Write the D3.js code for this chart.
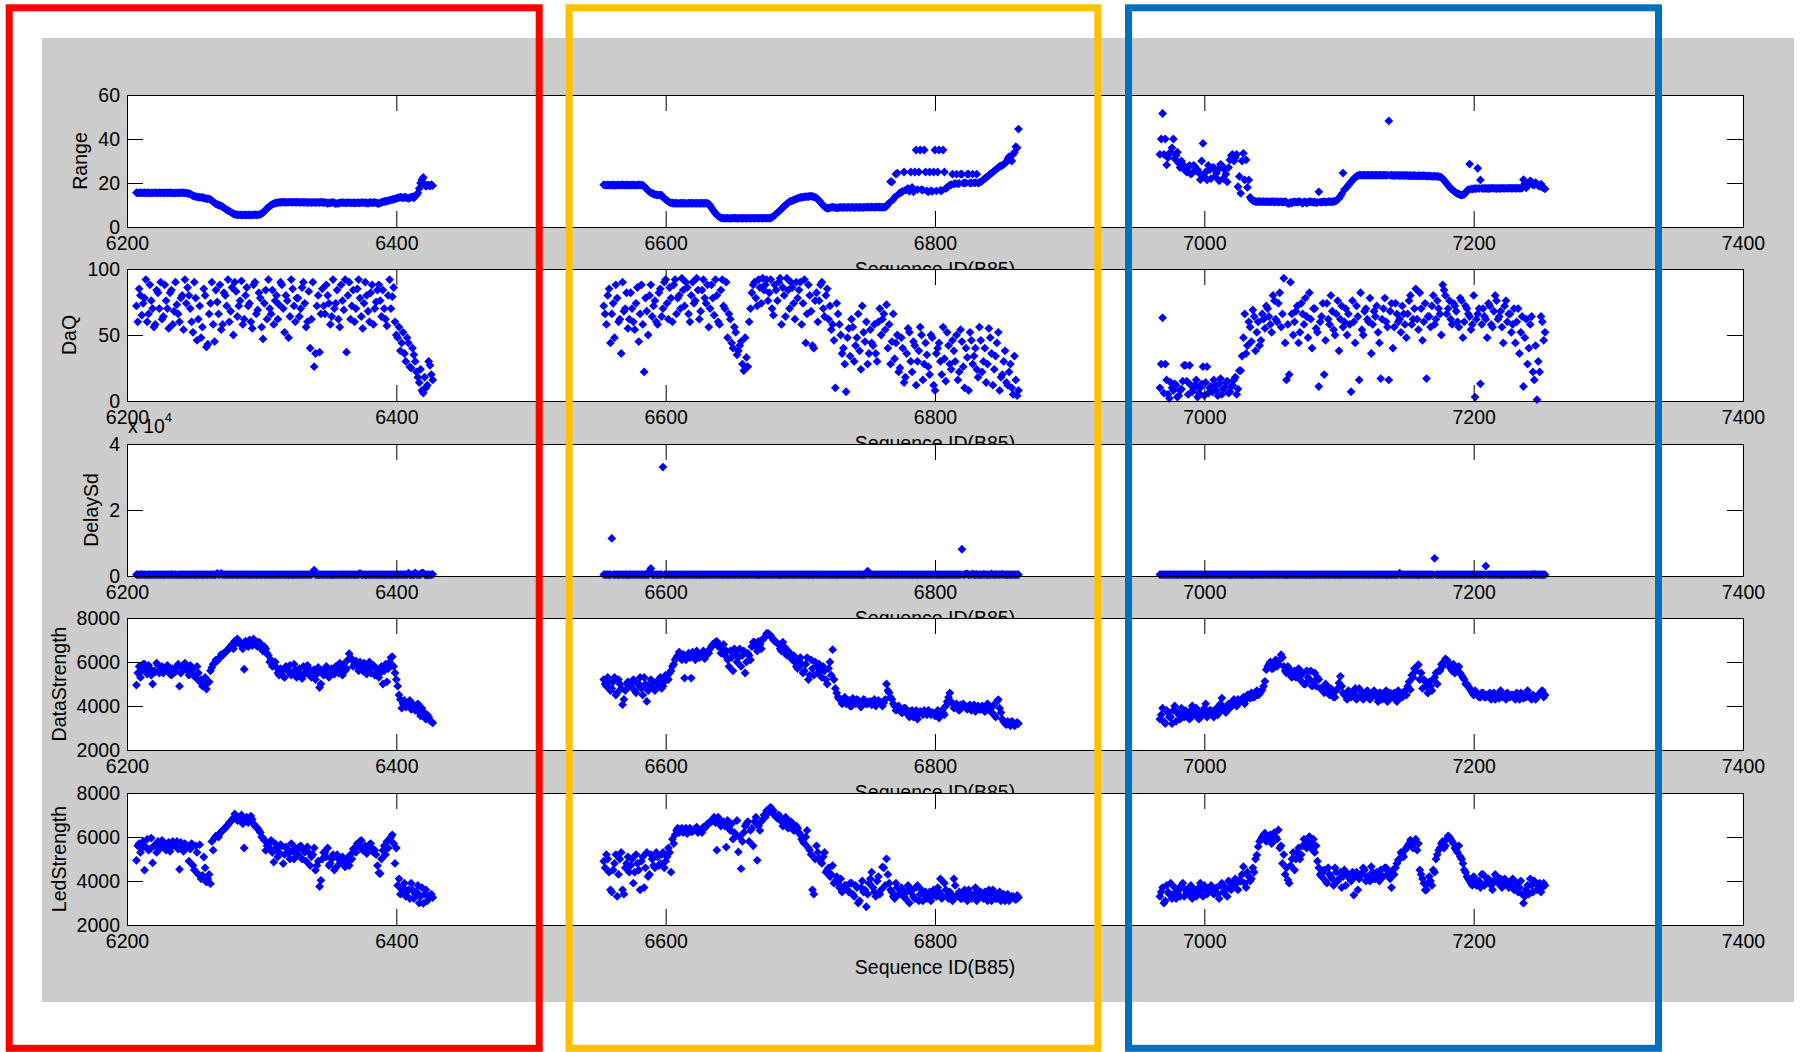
<!DOCTYPE html>
<html>
<head>
<meta charset="utf-8">
<script src="https://cdn.jsdelivr.net/npm/d3@7"></script>
<style>
html,body{margin:0;padding:0;background:#ffffff;}
svg{display:block;}
text{font-family:"Liberation Sans",Arial,Helvetica,sans-serif;}
</style>
</head>
<body>
<svg id="chart" width="1800" height="1052"></svg>
<script>
// ---------------- DATA ----------------
const xTicks = [6200, 6400, 6600, 6800, 7000, 7200, 7400];
const xLabel = "Sequence ID(B85)";

const rangeTicks = [0, 20, 40, 60];
const rangeTickLabels = ["0", "20", "40", "60"];
const daqTicks = [0, 50, 100];
const daqTickLabels = ["0", "50", "100"];
const delayTicks = [0, 20000, 40000];
const delayTickLabels = ["0", "2", "4"];
const strengthTicks = [2000, 4000, 6000, 8000];
const strengthTickLabels = ["2000", "4000", "6000", "8000"];

// ---- Segment A (odd IDs) ----
const idsA = [
6207,6209,6211,6213,6215,6217,6219,6221,6223,6225,
6227,6229,6231,6233,6235,6237,6239,6241,6243,6245,
6247,6249,6251,6253,6255,6257,6259,6261,6263,6265,
6267,6269,6271,6273,6275,6277,6279,6281,6283,6285,
6287,6289,6291,6293,6295,6297,6299,6301,6303,6305,
6307,6309,6311,6313,6315,6317,6319,6321,6323,6325,
6327,6329,6331,6333,6335,6337,6339,6341,6343,6345,
6347,6349,6351,6353,6355,6357,6359,6361,6363,6365,
6367,6369,6371,6373,6375,6377,6379,6381,6383,6385,
6387,6389,6391,6393,6395,6397,6399,6401,6403,6405,
6407,6409,6411,6413,6415,6417,6419,6421,6423,6425,
6427];
const rangeA = [
15.6,15.5,15.5,15.6,15.5,15.4,15.5,15.6,15.5,15.5,
15.5,15.6,15.5,15.5,15.4,15.5,15.5,15.6,15.5,15.3,
15.0,14.2,13.8,13.6,13.5,13.2,12.9,12.8,12.0,11.0,
10.2,9.8,9.2,8.2,7.5,6.8,6.0,5.6,5.5,5.5,
5.5,5.4,5.5,5.5,5.6,5.5,5.8,6.5,7.8,9.0,
10.0,10.6,11.0,11.2,11.3,11.3,11.2,11.3,11.3,11.2,
11.3,11.2,11.2,11.3,11.2,11.1,11.2,11.2,11.1,11.2,
11.2,10.8,11.0,11.2,10.6,10.7,11.1,11.1,11.0,11.1,
11.0,10.9,11.1,11.0,11.2,11.1,10.8,11.2,11.1,11.0,
10.6,11.2,11.6,11.8,12.1,12.5,12.8,13.2,13.6,13.2,
13.4,13.0,13.6,13.2,14.6,17.5,21.5,19.5,19.0,18.6,
18.8];
const daqA = [
72,85,65,78,60,88,70,58,82,90,
64,76,55,84,68,73,60,80,92,86,
70,52,78,62,48,85,41,66,90,45,
75,88,58,80,92,68,50,83,72,91,
62,86,74,55,90,69,78,47,84,92,
66,58,80,73,88,52,76,64,85,60,
78,70,90,56,83,62,26,72,37,85,
66,80,58,92,74,62,88,69,37,90,
72,60,85,78,55,90,68,82,58,75,
88,64,70,57,92,79,60,48,38,52,
30,44,25,35,22,14,8,18,12,27,
16];
const delayA = [
420,380,450,400,360,430,410,390,440,400,
380,420,400,450,410,370,430,400,420,390,
410,440,380,400,420,430,390,410,400,380,
800,420,400,380,430,410,390,420,400,440,
400,420,380,410,430,400,390,420,410,400,
380,410,430,400,420,390,410,400,380,420,
410,400,430,390,420,400,1800,410,390,420,
400,430,410,380,420,400,390,410,430,400,
420,390,410,800,400,380,420,410,400,430,
410,400,380,420,390,410,400,380,420,410,
430,900,400,380,420,390,950,420,300,360,
500];
const dataStrA = [
4950,5800,5600,5900,5450,5700,5000,5550,5850,5650,
5500,5700,5600,5400,5650,5750,4900,5800,5950,5600,
5850,5700,5300,5500,5200,4950,4770,5100,5750,5950,
6050,6200,6300,6450,6550,6700,6600,6850,6900,6750,
5670,6850,7000,6750,6900,6700,6850,6500,6600,6300,
6100,5900,5750,5400,5600,5300,5700,5850,5500,5650,
5600,5400,5800,5500,5700,5300,5650,5450,4840,5600,
5500,5700,5400,5600,5800,5500,5650,5900,5700,6380,
6100,5900,5800,6000,5600,5900,5750,5500,5850,5700,
5300,5800,5600,5100,6000,6240,5500,4900,4300,4100,
3950,4100,3850,4050,4000,3700,3900,3500,3600,3350,
3230];
const ledStrA = [
4940,5700,5500,4490,5900,5450,4820,5650,5800,5500,
5600,5400,5750,5550,5650,5800,4530,5500,5700,5600,
5450,4710,5600,4300,4100,5090,3950,4300,5800,5950,
6050,6150,6300,6400,6550,6700,6850,6950,6800,7000,
5500,6900,6750,6800,6500,6400,6200,5950,5390,5700,
5850,4860,5500,5300,5600,5200,5450,5000,5350,5500,
5200,5600,5400,4900,5300,5100,5500,4700,3750,5000,
5300,5500,4800,5200,4600,5000,4900,4800,5000,4700,
5000,5500,5700,5800,5400,5600,5450,5700,5300,5200,
4370,5000,5600,5800,5900,6100,4800,3800,3400,3700,
3300,3600,3900,3200,3500,3000,3700,3400,3100,3300,
3250];

// ---- Segment A (even IDs) ----
const idsA2 = [
6208,6210,6212,6214,6216,6218,6220,6222,6224,6226,
6228,6230,6232,6234,6236,6238,6240,6242,6244,6246,
6248,6250,6252,6254,6256,6258,6260,6262,6264,6266,
6268,6270,6272,6274,6276,6278,6280,6282,6284,6286,
6288,6290,6292,6294,6296,6298,6300,6302,6304,6306,
6308,6310,6312,6314,6316,6318,6320,6322,6324,6326,
6328,6330,6332,6334,6336,6338,6340,6342,6344,6346,
6348,6350,6352,6354,6356,6358,6360,6362,6364,6366,
6368,6370,6372,6374,6376,6378,6380,6382,6384,6386,
6388,6390,6392,6394,6396,6398,6400,6402,6404,6406,
6408,6410,6412,6414,6416,6418,6420,6422,6424,6426];
const rangeA2 = [
15.5,15.6,15.5,15.5,15.6,15.5,15.5,15.5,15.6,15.5,
15.5,15.5,15.6,15.5,15.5,15.5,15.6,15.5,15.4,15.2,
14.6,14.0,13.7,13.5,13.4,13.0,12.8,12.4,11.5,10.5,
10.0,9.5,8.7,7.8,7.2,6.4,5.8,5.5,5.5,5.4,
5.5,5.5,5.4,5.5,5.5,5.6,6.1,7.1,8.4,9.5,
10.3,10.8,11.1,11.2,11.3,11.2,11.3,11.2,11.3,11.3,
11.2,11.3,11.2,11.1,11.2,11.2,11.1,11.2,11.3,11.1,
11.0,10.9,11.1,10.9,10.7,11.0,11.1,11.0,11.1,11.0,
11.1,11.0,11.0,11.1,11.0,10.9,11.1,11.0,11.2,10.8,
11.0,11.4,11.7,12.0,12.3,12.6,13.0,13.4,13.4,13.6,
13.2,13.3,13.8,14.0,15.5,20.0,22.5,18.5,19.0,19.3];
const daqA2 = [
60,80,74,92,66,76,56,84,70,62,
88,70,82,58,90,66,78,54,74,80,
60,90,46,72,56,80,43,74,58,84,
66,54,82,72,60,86,90,64,76,58,
80,72,60,88,66,82,56,74,62,70,
84,76,62,90,70,80,48,92,72,78,
64,86,74,60,40,90,36,80,66,72,
88,74,64,70,84,56,76,92,80,62,
84,70,92,64,74,80,60,88,70,84,
76,84,62,80,70,86,50,56,44,36,
48,26,40,30,18,24,6,10,30,20];
const delayA2 = [
400,420,390,410,430,380,410,400,420,390,
410,400,430,390,420,400,380,410,420,400,
390,410,400,420,380,430,400,410,390,420,
400,760,410,390,420,400,430,380,410,400,
420,390,410,400,380,420,400,430,390,410,
400,420,390,410,430,400,380,420,410,400,
390,410,420,400,430,1200,400,410,390,420,
410,400,380,420,400,390,430,410,400,420,
400,430,410,390,420,400,380,410,420,400,
390,410,400,420,380,410,430,400,420,410,
400,380,420,950,410,400,900,380,420,400];
const dataStrA2 = [
5500,5300,5900,5700,5850,5400,5600,5950,5500,5800,
5600,5850,5450,5700,5550,5900,5500,5650,5800,5400,
5600,5350,5800,5100,4900,5300,5050,5600,5900,6100,
6150,6350,6400,6500,6650,6800,6950,7050,6900,6600,
6950,6700,6800,7050,6750,6900,6600,6700,6400,6000,
5800,6000,5500,5700,5350,5800,5550,5400,5900,5300,
5700,5250,5500,5850,5400,5600,5200,5750,5000,5400,
5800,5300,5700,5450,5550,5950,5400,5600,6100,6200,
5800,6050,5600,5700,5950,5450,6000,5800,5400,5600,
5500,5000,5900,5700,6200,5800,5200,4500,3900,4250,
4000,4250,3900,3800,4100,3550,3750,3400,3500,3300];
const ledStrA2 = [
5600,5300,5800,5550,5400,5950,5600,5300,5700,5850,
5500,5700,5350,5800,5600,5450,5750,5350,5550,4900,
5700,4500,5300,5650,4260,4600,4100,3880,5400,6050,
6000,6250,6350,6500,6650,6800,7050,6750,6900,6600,
6750,6650,6950,6600,6450,6300,6000,5850,5600,5500,
5300,5700,5100,5650,4790,5550,5250,5700,5000,5400,
5550,5000,5300,5550,4700,5200,4490,4900,4030,5300,
5100,4700,5000,4500,5200,4800,5100,4640,4900,5200,
5450,5300,5600,5840,5500,5250,5650,5500,5400,4700,
4340,5390,5200,5500,6000,5700,5500,4100,3600,3900,
3500,3200,3600,3400,3800,3300,2980,3600,3300,3400];

// ---- Segment B (even IDs) ----
const idsB = [
6554,6556,6558,6560,6562,6564,6566,6568,6570,6572,
6574,6576,6578,6580,6582,6584,6586,6588,6590,6592,
6594,6596,6598,6600,6602,6604,6606,6608,6610,6612,
6614,6616,6618,6620,6622,6624,6626,6628,6630,6632,
6634,6636,6638,6640,6642,6644,6646,6648,6650,6652,
6654,6656,6658,6660,6662,6664,6666,6668,6670,6672,
6674,6676,6678,6680,6682,6684,6686,6688,6690,6692,
6694,6696,6698,6700,6702,6704,6706,6708,6710,6712,
6714,6716,6718,6720,6722,6724,6726,6728,6730,6732,
6734,6736,6738,6740,6742,6744,6746,6748,6750,6752,
6754,6756,6758,6760,6762,6764,6766,6768,6770,6772,
6774,6776,6778,6780,6782,6784,6786,6788,6790,6792,
6794,6796,6798,6800,6802,6804,6806,6808,6810,6812,
6814,6816,6818,6820,6822,6824,6826,6828,6830,6832,
6834,6836,6838,6840,6842,6844,6846,6848,6850,6852,
6854,6856,6858,6860,6862];
const rangeB = [
19.2,19.0,19.1,19.0,18.9,19.1,19.0,19.2,19.0,19.1,
19.0,19.1,19.0,19.2,19.0,18.5,17.2,16.0,15.3,14.8,
14.6,14.5,13.5,12.5,11.5,11.0,10.8,10.8,10.7,10.8,
10.8,10.7,10.8,10.8,10.7,10.8,10.8,10.7,10.8,10.5,
8.8,7.0,5.5,4.5,4.0,3.9,4.0,3.9,4.0,4.0,
3.9,4.0,4.0,3.9,4.0,4.0,3.9,4.0,4.0,3.9,
4.0,4.0,4.1,4.8,6.0,7.0,8.2,9.5,10.5,11.5,
12.0,12.5,13.0,13.4,13.6,13.8,13.8,14.0,13.7,13.2,
12.0,10.5,9.2,8.5,8.8,9.0,8.8,8.7,9.0,8.9,
8.8,9.0,8.9,8.7,9.0,8.9,8.8,9.0,9.1,8.9,
9.0,9.1,9.0,8.9,9.0,9.5,11.0,20.5,13.5,24.5,
15.5,16.2,16.8,17.5,25.0,16.0,35.0,25.0,17.0,35.0,
16.4,25.0,16.2,35.0,25.0,16.6,35.0,17.5,18.5,19.2,
19.5,24.0,19.8,24.0,20.0,24.0,20.0,24.0,20.2,20.0,
20.5,21.5,22.5,23.5,24.5,25.5,26.5,27.5,28.0,29.0,
31.0,30.5,33.0,36.5,44.5];
const daqB = [
72,58,85,66,48,78,62,90,70,55,
82,60,74,45,88,22,68,80,64,76,
58,85,70,92,62,78,88,66,80,93,
72,86,60,90,76,84,68,92,74,56,
88,65,80,58,92,70,48,62,40,52,
38,45,23,33,60,82,90,72,86,93,
88,76,92,65,84,90,58,80,93,70,
86,62,78,90,74,44,88,68,40,82,
76,90,64,85,72,58,10,66,50,40,
7,55,62,30,48,38,72,45,28,54,
42,36,60,50,66,73,58,45,32,50,
25,40,18,55,30,45,12,38,50,28,
35,20,48,8,40,30,56,15,42,24,
38,50,22,45,10,33,52,28,40,18,
46,30,14,55,36,24,44,8,20,38,
12,28,5,16,8];
const delayB = [
400,420,380,11400,410,390,430,400,420,380,
410,400,430,390,420,400,410,1500,400,420,
390,410,33000,400,430,380,420,410,390,400,
410,400,420,390,430,400,380,410,420,400,
400,420,390,410,380,430,400,420,410,390,
420,400,410,390,430,400,420,380,410,400,
390,420,400,410,430,380,400,420,390,410,
400,430,410,390,420,400,380,410,430,400,
410,390,420,400,380,430,410,400,420,390,
400,420,390,410,430,400,380,410,1500,400,
420,390,410,400,430,380,420,400,390,410,
400,420,390,410,400,430,380,420,410,400,
390,410,420,400,380,430,400,410,420,390,
400,410,420,8100,390,600,400,650,410,380,
420,500,390,410,600,380,420,400,550,390,
410,380,420,400,390];
const dataStrB = [
5200,4900,5100,4800,5300,4600,5000,4060,4700,5100,
4900,5200,4600,5000,4800,5300,4210,4900,5100,4700,
5000,5300,4900,5400,5200,5600,5900,6200,6450,6100,
5270,6300,6200,6450,6100,6350,6250,6500,6300,6400,
6700,6850,6940,6750,6600,6300,6100,6500,5600,6400,
6200,5800,6500,6000,6300,6700,6900,6500,6800,7000,
7150,7300,7200,7000,6900,6800,6500,6700,6300,6400,
6100,6000,5700,6200,5500,5900,5200,6100,5400,5800,
5900,5300,5600,5000,6000,6560,4800,4400,4300,4200,
4100,4250,4000,4200,4300,4150,4050,4250,4100,4200,
4150,4000,4250,4100,4150,5000,4600,4300,4000,3900,
3800,3700,3900,3600,3750,3500,3800,3650,3700,3800,
3600,3750,3700,3550,3800,3650,3700,4000,4400,4200,
3900,4100,3800,3950,4000,3850,4050,3900,3750,4000,
3850,3950,3800,4000,3700,3600,4200,3900,3400,3200,
3300,3100,3250,3150,3200];
const ledStrB = [
4900,5200,4400,3500,4800,3300,5000,3600,4600,5100,
4700,3900,5200,4500,4900,3700,5300,4300,5000,4600,
5100,4800,5300,4900,5500,4400,5700,6300,6200,6400,
6300,6150,6400,6250,6350,6200,6300,6450,6500,6600,
6700,6900,5400,6800,6650,6500,6750,6300,5900,6100,
5320,4560,6200,6600,5800,6400,6700,4940,6300,6800,
6900,7100,7350,7200,6900,7000,6700,6600,6800,6500,
6600,6300,6400,6100,5800,6000,5500,5200,3400,5600,
5000,4800,5300,4500,4200,4700,4000,3900,4100,3600,
3800,3500,3900,3300,3700,3100,4000,3600,3400,4100,
3700,3300,4200,3600,4600,5010,3900,3500,3200,3700,
3400,3600,3200,3800,3500,3300,3700,3100,3600,3400,
3200,3500,3300,3400,3700,4100,3300,3600,3200,3400,
4100,3300,3500,3200,3600,3100,3400,3300,3700,3200,
3500,3200,3300,3600,3100,3400,3200,3500,3300,3100,
3400,3200,3300,3150,3250];

// ---- Segment B (odd IDs) ----
const idsB2 = [
6555,6557,6559,6561,6563,6565,6567,6569,6571,6573,
6575,6577,6579,6581,6583,6585,6587,6589,6591,6593,
6595,6597,6599,6601,6603,6605,6607,6609,6611,6613,
6615,6617,6619,6621,6623,6625,6627,6629,6631,6633,
6635,6637,6639,6641,6643,6645,6647,6649,6651,6653,
6655,6657,6659,6661,6663,6665,6667,6669,6671,6673,
6675,6677,6679,6681,6683,6685,6687,6689,6691,6693,
6695,6697,6699,6701,6703,6705,6707,6709,6711,6713,
6715,6717,6719,6721,6723,6725,6727,6729,6731,6733,
6735,6737,6739,6741,6743,6745,6747,6749,6751,6753,
6755,6757,6759,6761,6763,6765,6767,6769,6771,6773,
6775,6777,6779,6781,6783,6785,6787,6789,6791,6793,
6795,6797,6799,6801,6803,6805,6807,6809,6811,6813,
6815,6817,6819,6821,6823,6825,6827,6829,6831,6833,
6835,6837,6839,6841,6843,6845,6847,6849,6851,6853,
6855,6857,6859,6861];
const rangeB2 = [
19.0,19.1,19.0,19.2,19.0,19.0,19.1,19.0,19.1,19.0,
19.1,19.0,19.1,19.0,19.0,17.8,16.5,15.6,15.0,14.6,
14.5,14.5,13.0,12.0,11.2,10.9,10.8,10.7,10.8,10.8,
10.7,10.8,10.8,10.7,10.8,10.7,10.8,10.8,10.7,9.8,
7.8,6.2,5.0,4.2,4.0,4.0,3.9,4.0,4.0,3.9,
4.0,3.9,4.0,4.0,3.9,4.0,4.0,3.9,4.0,4.0,
4.0,4.0,4.4,5.4,6.5,7.6,8.8,10.0,11.0,11.8,
12.2,12.8,13.2,13.5,13.7,13.8,14.0,13.9,13.5,12.6,
11.2,9.8,8.8,8.6,8.9,8.9,8.7,8.9,8.8,9.0,
8.9,8.8,9.0,8.9,8.8,9.0,8.9,8.9,9.0,9.1,
8.9,9.0,9.1,9.0,8.9,10.2,20.6,12.5,24.0,15.0,
15.8,25.0,17.0,16.2,18.0,25.0,17.0,35.0,16.8,25.0,
16.0,16.5,25.0,16.4,35.0,16.5,25.0,18.0,19.0,24.0,
19.8,19.6,24.0,19.9,20.1,24.0,20.0,20.1,24.0,20.3,
21.0,22.0,23.0,24.0,25.0,26.0,27.0,27.8,28.5,29.5,
32.0,30.0,34.0,36.0];
const daqB2 = [
66,80,44,74,88,60,36,68,82,62,
70,54,86,66,58,78,50,88,72,60,
82,64,90,74,86,60,92,78,70,84,
90,66,80,74,93,62,84,78,88,70,
78,92,60,84,72,90,66,44,56,35,
42,28,48,26,70,88,78,92,74,84,
92,82,70,88,76,93,86,64,84,90,
74,90,84,58,92,66,80,42,76,60,
88,70,80,62,54,46,74,58,36,28,
48,34,56,42,66,24,52,60,36,44,
58,30,70,62,54,40,28,66,44,22,
48,14,36,52,22,42,30,56,16,44,
26,50,12,36,44,20,32,52,28,46,
30,16,54,26,40,8,46,34,24,56,
22,40,28,48,12,34,52,18,30,14,
22,10,34,4];
const delayB2 = [
410,390,420,400,430,380,410,400,420,390,
400,420,390,410,400,430,380,2300,410,400,
420,400,390,410,430,400,380,420,410,400,
390,410,420,400,380,430,400,410,420,390,
400,420,410,390,430,400,380,420,400,410,
410,400,420,390,400,430,410,380,420,400,
400,390,410,420,400,380,430,410,400,420,
420,400,390,410,430,400,410,380,420,400,
400,410,420,390,400,430,380,410,400,420,
410,400,390,420,400,380,430,410,400,390,
400,420,410,390,430,400,380,420,410,400,
390,410,400,420,380,430,400,410,390,420,
400,390,420,410,400,380,430,400,420,410,
410,400,390,420,600,400,410,380,520,400,
400,450,410,380,420,500,390,410,400,380,
420,390,410,400];
const dataStrB2 = [
5000,5300,4700,5100,4500,5200,4800,4300,5000,4900,
5100,4700,5000,5300,4500,5000,4700,5200,4800,5100,
5200,4800,5100,5300,5500,5800,6100,6300,6200,6350,
6100,6400,5270,6300,6500,6200,6400,6150,6450,6600,
6800,6900,6700,6400,6800,6500,5800,6200,6600,6000,
6600,6300,5500,6400,6100,6900,6700,6940,6600,7100,
7300,7250,7100,6950,6850,6600,6900,6400,6500,6200,
6300,5800,6100,5900,5600,6200,5400,5700,6000,5500,
5600,5800,5200,5700,5400,5200,4590,4300,4100,4400,
4200,4000,4350,4100,4250,3950,4300,4100,4200,4050,
4300,4100,4200,4000,4300,4700,4400,4100,3800,4000,
3700,3900,3750,3500,3800,3650,3400,3750,3600,3700,
3800,3600,3650,3700,3450,3800,3600,4200,4590,4100,
4000,3850,4050,4100,3900,4000,3800,4050,3950,3850,
4000,3750,4100,3850,4000,3500,4290,3700,3300,3150,
3200,3300,3100,3250];
const ledStrB2 = [
4600,5000,3600,4500,5200,4300,5300,3400,4800,4400,
5000,4400,4800,3600,5100,4600,4200,5200,4700,5300,
4700,5200,4600,5100,5300,5900,6100,6400,6300,6200,
6400,6300,6250,6350,6450,6300,6200,6400,6600,6700,
6800,6650,6900,6500,6700,5540,6400,6600,6200,6750,
6000,5800,6500,6700,6300,5600,6900,6500,6700,7000,
7200,7300,7100,7000,6850,6800,6500,6900,6400,6700,
6300,6500,6200,5900,5700,6300,5400,3600,5000,5300,
4900,5100,4400,4600,4300,3900,4200,3700,3500,3800,
3600,3900,3400,3800,3000,3700,3500,2830,3900,4400,
3500,4000,3400,4640,3800,4300,3600,3300,3900,3400,
3700,3300,3500,3000,3600,3200,3800,3400,3100,3500,
3400,3100,3600,3300,3500,3200,3900,3300,3500,3100,
3800,3400,3200,3500,3300,3600,3200,3400,3100,3500,
3300,3500,3100,3400,3600,3200,3300,3100,3400,3200,
3100,3300,3200,3350];

// ---- Segment C (odd IDs) ----
const idsC = [
6967,6969,6971,6973,6975,6977,6979,6981,6983,6985,
6987,6989,6991,6993,6995,6997,6999,7001,7003,7005,
7007,7009,7011,7013,7015,7017,7019,7021,7023,7025,
7027,7029,7031,7033,7035,7037,7039,7041,7043,7045,
7047,7049,7051,7053,7055,7057,7059,7061,7063,7065,
7067,7069,7071,7073,7075,7077,7079,7081,7083,7085,
7087,7089,7091,7093,7095,7097,7099,7101,7103,7105,
7107,7109,7111,7113,7115,7117,7119,7121,7123,7125,
7127,7129,7131,7133,7135,7137,7139,7141,7143,7145,
7147,7149,7151,7153,7155,7157,7159,7161,7163,7165,
7167,7169,7171,7173,7175,7177,7179,7181,7183,7185,
7187,7189,7191,7193,7195,7197,7199,7201,7203,7205,
7207,7209,7211,7213,7215,7217,7219,7221,7223,7225,
7227,7229,7231,7233,7235,7237,7239,7241,7243,7245,
7247,7249,7251,7253];
const rangeC = [
33.0,51.6,40.0,31.5,34.0,40.0,32.5,29.0,30.0,26.5,
25.0,28.0,24.5,27.5,26.0,21.5,38.0,25.0,28.0,22.0,
27.0,24.5,21.0,28.0,26.0,20.5,30.5,33.0,31.5,18.3,
15.3,33.5,30.5,21.4,12.5,11.8,11.5,11.6,11.5,11.4,
11.5,11.4,11.6,11.5,11.3,11.5,11.4,11.2,10.6,10.9,
11.4,11.3,11.5,10.8,11.4,11.3,11.5,11.2,11.0,16.0,
11.2,11.5,11.3,11.6,11.5,11.8,12.5,14.0,24.5,17.5,
19.0,20.5,22.0,23.0,23.6,23.5,23.6,23.6,23.5,23.6,
23.6,23.5,23.6,23.6,23.5,48.2,23.6,23.4,23.5,23.4,
23.5,23.4,23.3,23.4,23.3,23.2,23.3,23.2,23.4,23.1,
23.2,23.0,23.1,23.0,22.8,22.0,20.5,19.0,17.5,16.5,
15.5,15.0,14.5,14.8,16.5,28.6,17.2,17.4,26.7,21.4,
17.5,17.6,17.5,17.6,17.6,17.5,17.6,17.7,17.6,17.6,
17.7,17.6,17.6,17.7,17.6,21.5,17.8,19.5,20.5,19.0,
19.5,18.5,18.0,17.3];
const daqC = [
10,63,28,5,14,8,12,4,9,27,
15,27,7,12,3,10,26,14,6,11,
16,8,13,5,10,15,7,12,18,9,
23,48,36,60,45,64,52,42,66,55,
70,58,80,62,74,56,93,16,20,66,
60,72,52,66,78,48,62,70,55,11,
64,20,74,58,68,50,76,62,56,70,
66,7,60,72,16,54,68,62,78,58,
64,52,17,70,60,16,74,56,66,62,
72,58,66,80,62,85,54,70,60,17,
64,72,58,76,66,88,80,70,62,74,
68,56,76,60,70,64,58,3,66,13,
70,62,74,58,68,76,64,56,72,60,
66,58,44,70,52,11,62,40,64,16,
1,22,60,52];
const delayC = [
420,400,380,410,430,400,390,420,410,400,
390,410,420,400,430,380,410,400,420,390,
410,400,390,420,400,430,380,410,400,420,
400,390,410,430,380,420,400,410,390,420,
410,400,420,390,430,400,410,380,420,400,
390,420,400,410,380,430,400,420,390,410,
400,410,390,420,400,380,430,410,400,390,
420,400,410,390,430,400,380,420,410,400,
390,410,400,420,380,410,400,390,420,900,
400,420,390,410,430,400,380,410,420,400,
410,390,5360,400,420,380,410,400,390,420,
400,410,420,390,400,430,410,380,400,420,
410,3030,400,390,420,400,410,380,420,400,
390,420,400,410,380,430,400,410,390,500,
420,400,380,410];
const dataStrC = [
3400,3900,3200,3700,3500,3800,3300,3600,3900,3500,
3700,3400,4000,3600,3800,3500,3700,4100,3600,3800,
3500,3900,3700,4360,3800,4000,3900,4200,4100,4300,
4200,4400,4300,4500,4600,4400,4700,4550,4740,5120,
5800,6000,5700,6100,5900,6330,5800,5500,5700,5300,
5600,5400,5200,5500,5000,5300,5600,5100,4900,5200,
4800,4600,4900,4500,4700,4400,4800,5350,4600,4500,
4700,4400,4600,4300,4800,4500,4400,4700,4300,4600,
4500,4200,4600,4400,4700,4300,4500,4600,4200,4500,
4400,4700,4900,4740,5300,5600,5880,5500,5200,4900,
5100,4700,5300,5000,5600,5800,6140,6000,5700,5900,
5600,5800,5400,5200,5000,4800,4600,4700,4500,4400,
4600,4400,4500,4300,4600,4450,4350,4500,4400,4600,
4400,4500,4300,4450,4600,4350,4400,4500,4300,4450,
4400,4550,4700,4500];
const ledStrC = [
3300,3700,3100,3500,3900,3400,3200,3600,3800,3300,
3500,3700,3200,3600,3400,3900,3300,3600,3500,3800,
3400,3700,3200,3900,3500,3300,3700,3900,4100,3600,
4000,4650,3700,4200,4100,4400,5180,5800,6000,6170,
5900,6100,5800,6000,6320,5600,5200,4600,3900,5000,
4500,5300,5000,5600,5700,5800,5500,5900,5600,4600,
4200,4500,3900,4300,4100,4600,4000,4400,4200,3800,
4300,4000,3360,4400,4100,4300,4500,4200,4000,4400,
4100,4300,4500,4200,4600,4400,3700,4300,4800,5000,
5200,5400,5600,5860,5500,5900,5700,4300,3900,3600,
4200,3800,4400,5200,5500,5800,5600,6050,5900,5700,
5400,5600,5000,4500,4200,4000,3800,4100,3900,3700,
4300,3900,4100,3800,4000,4200,3900,3700,4100,3900,
3800,4100,3700,3500,4000,2990,3600,3400,3800,4000,
3600,3900,3700,3800];

// ---- Segment C (even IDs) ----
const idsC2 = [
6968,6970,6972,6974,6976,6978,6980,6982,6984,6986,
6988,6990,6992,6994,6996,6998,7000,7002,7004,7006,
7008,7010,7012,7014,7016,7018,7020,7022,7024,7026,
7028,7030,7032,7034,7036,7038,7040,7042,7044,7046,
7048,7050,7052,7054,7056,7058,7060,7062,7064,7066,
7068,7070,7072,7074,7076,7078,7080,7082,7084,7086,
7088,7090,7092,7094,7096,7098,7100,7102,7104,7106,
7108,7110,7112,7114,7116,7118,7120,7122,7124,7126,
7128,7130,7132,7134,7136,7138,7140,7142,7144,7146,
7148,7150,7152,7154,7156,7158,7160,7162,7164,7166,
7168,7170,7172,7174,7176,7178,7180,7182,7184,7186,
7188,7190,7192,7194,7196,7198,7200,7202,7204,7206,
7208,7210,7212,7214,7216,7218,7220,7222,7224,7226,
7228,7230,7232,7234,7236,7238,7240,7242,7244,7246,
7248,7250,7252];
const rangeC2 = [
40.0,33.0,28.2,33.5,36.0,31.0,34.0,27.0,28.5,25.5,
27.0,24.0,28.0,25.5,24.5,30.0,23.0,21.4,26.0,27.0,
23.0,26.0,28.5,22.0,24.0,27.0,32.5,30.0,33.0,23.0,
30.0,21.4,18.0,13.5,12.0,11.6,11.5,11.4,11.6,11.5,
11.4,11.5,11.3,11.5,11.4,11.3,11.5,10.8,11.2,11.4,
11.3,11.5,11.2,11.4,10.9,11.5,11.3,11.4,11.2,11.3,
11.4,11.3,11.5,11.4,11.6,12.0,13.0,15.0,17.0,18.2,
19.8,21.2,22.5,23.3,23.6,23.6,23.5,23.6,23.6,23.5,
23.6,23.6,23.5,23.6,23.6,23.5,23.4,23.5,23.5,23.4,
23.4,23.5,23.3,23.3,23.4,23.2,23.3,23.2,23.2,23.1,
23.1,23.0,23.0,22.9,22.5,21.3,19.8,18.2,17.0,16.0,
15.2,14.6,14.6,15.5,17.0,17.3,17.4,17.5,17.5,17.6,
17.6,17.5,17.6,17.7,17.6,17.6,17.5,17.6,17.6,17.7,
17.6,17.7,17.6,17.6,17.7,19.8,18.5,21.0,19.2,20.2,
18.8,19.5,17.8];
const daqC2 = [
28,6,16,2,10,13,3,8,15,27,
5,12,9,16,6,13,4,26,10,7,
12,4,17,9,14,6,11,16,5,23,
34,66,42,56,69,38,60,46,62,72,
64,52,76,60,82,66,44,58,90,50,
68,44,74,58,64,82,40,70,52,60,
74,46,62,80,54,66,38,72,60,50,
58,76,44,64,82,50,70,60,36,68,
72,44,62,78,56,68,40,74,60,52,
66,48,76,58,70,62,82,46,74,64,
56,80,62,70,50,84,66,76,58,72,
60,78,48,72,66,54,80,62,70,58,
64,48,72,56,80,62,68,44,76,66,
52,70,60,36,64,48,28,58,22,42,
30,64,46];
const delayC2 = [
400,410,390,420,400,430,380,410,400,420,
410,400,420,390,400,430,410,380,420,400,
390,420,400,410,430,400,380,420,410,400,
400,410,420,390,380,430,400,410,420,390,
420,400,410,390,430,400,380,420,400,410,
400,390,420,410,400,380,430,400,410,420,
410,400,390,420,400,430,380,410,400,390,
400,420,410,390,430,400,410,380,420,400,
390,400,420,410,380,430,400,410,420,400,
400,410,390,420,400,380,430,410,400,420,
420,400,410,390,400,430,410,400,380,420,
400,410,390,420,400,380,430,400,410,420,
410,400,420,390,400,430,410,380,420,400,
400,390,420,410,400,430,380,410,520,400,
410,430,400];
const dataStrC2 = [
3600,3300,3800,3500,3200,4000,3700,3400,3600,3800,
3500,3800,3600,3900,3400,3700,3900,3500,3800,3600,
3800,3600,4100,3900,3700,4100,4000,4300,3990,4200,
4300,4100,4500,4350,4400,4600,4500,4650,4900,5650,
5900,5700,6000,5800,6100,6200,5600,5800,5400,5500,
5300,5700,5400,5000,5600,5200,4900,5500,5300,4800,
4700,5000,4600,4800,4400,4700,5050,4900,4500,4300,
4600,4500,4800,4400,4700,4300,4600,4500,4400,4700,
4400,4600,4300,4500,4200,4600,4400,4300,4700,4400,
4600,4500,5100,5400,5700,5800,5200,4800,5100,4590,
4900,5200,5500,5600,5900,6000,6100,5800,5600,5500,
5700,5500,5300,5000,4900,4700,4500,4600,4400,4600,
4400,4500,4600,4400,4300,4500,4700,4400,4300,4500,
4500,4400,4600,4300,4500,4400,4700,4400,4500,4300,
4500,4650,4400];
const ledStrC2 = [
3500,3000,3800,3400,3200,3700,3500,3300,3900,3600,
3400,3800,3500,3300,3700,3600,3800,3400,3700,3500,
3600,3400,3800,3500,3700,4000,3600,3800,3900,4050,
4300,3900,4400,4000,4600,5000,5560,5900,6100,5800,
6000,5700,6200,5900,5500,4800,4300,4050,4700,5300,
5000,5500,5200,5900,5500,6020,5700,5300,4900,4300,
4400,4000,4600,4200,3800,4400,4100,3700,4500,4300,
4100,4400,4200,3600,4300,4600,4000,4200,4650,4100,
4400,4000,4200,4600,4300,4100,4500,4600,4960,5300,
5100,5500,5700,5600,5800,5400,4500,4100,3590,3900,
4000,4500,5000,5400,5700,5500,5900,6000,5800,5500,
5300,5110,4800,4400,4100,3900,4200,3800,4000,4300,
3800,4100,4000,3600,4300,3900,4100,3800,4000,3700,
4000,3600,3900,3700,3400,3300,3800,4100,3500,3900,
3800,3500,3900];

// ---------------- DRAWING ----------------
const FONT = '"Liberation Sans", Arial, Helvetica, sans-serif';
const FS = 19.5;
const svg = d3.select("#chart");

// figure background
svg.append("rect").attr("x", 42).attr("y", 38).attr("width", 1752).attr("height", 964).attr("fill", "#cccccc");

const axL = 127, axR = 1743, axH = 132;
const tops = [95, 269, 444, 618, 793];
const x = d3.scaleLinear().domain([6200, 7400]).range([axL, axR]);

const seqIds = [].concat(idsA, idsA2, idsB, idsB2, idsC, idsC2);
const panels = [
  {label: "Range", vals: [].concat(rangeA, rangeA2, rangeB, rangeB2, rangeC, rangeC2), domain: [0, 60], ticks: rangeTicks, tickLabels: rangeTickLabels},
  {label: "DaQ", vals: [].concat(daqA, daqA2, daqB, daqB2, daqC, daqC2), domain: [0, 100], ticks: daqTicks, tickLabels: daqTickLabels},
  {label: "DelaySd", vals: [].concat(delayA, delayA2, delayB, delayB2, delayC, delayC2), domain: [0, 40000], ticks: delayTicks, tickLabels: delayTickLabels, exponent: "4"},
  {label: "DataStrength", vals: [].concat(dataStrA, dataStrA2, dataStrB, dataStrB2, dataStrC, dataStrC2), domain: [2000, 8000], ticks: strengthTicks, tickLabels: strengthTickLabels},
  {label: "LedStrength", vals: [].concat(ledStrA, ledStrA2, ledStrB, ledStrB2, ledStrC, ledStrC2), domain: [2000, 8000], ticks: strengthTicks, tickLabels: strengthTickLabels}
];

const diamond = "M0,-4.4L4.4,0L0,4.4L-4.4,0Z";

function styleAxis(g) {
  g.attr("font-size", null).attr("font-family", null);
  g.select(".domain").attr("stroke", "#000").attr("stroke-width", 1);
  g.selectAll(".tick line").attr("stroke", "#000").attr("stroke-width", 1);
  g.selectAll(".tick text").attr("fill", "#000").style("font-size", FS + "px").style("font-family", FONT);
}

panels.forEach((p, i) => {
  const top = tops[i], bottom = top + axH;
  const y = d3.scaleLinear().domain(p.domain).range([bottom, top]);
  const g = svg.append("g");

  // axes background
  g.append("rect").attr("x", axL).attr("y", top).attr("width", axR - axL).attr("height", axH).attr("fill", "#ffffff");

  // x label (partly hidden by the next axes, as in the original)
  g.append("text").attr("x", (axL + axR) / 2).attr("y", bottom + 49)
    .attr("text-anchor", "middle").style("font-size", FS + "px").style("font-family", FONT)
    .attr("fill", "#000").text(xLabel);

  // markers
  const n = Math.min(seqIds.length, p.vals.length);
  g.append("g").selectAll("path").data(d3.range(n)).join("path")
    .attr("d", diamond)
    .attr("transform", k => `translate(${x(seqIds[k])},${y(p.vals[k])})`)
    .attr("fill", "#0000ff");

  // axes
  g.append("g").attr("transform", `translate(0,${bottom})`)
    .call(d3.axisBottom(x).tickValues(xTicks).tickFormat(d3.format("d")).tickSize(-16).tickSizeOuter(0).tickPadding(9))
    .call(styleAxis);
  g.append("g").attr("transform", `translate(0,${top})`)
    .call(d3.axisTop(x).tickValues(xTicks).tickFormat(() => "").tickSize(-16).tickSizeOuter(0))
    .call(styleAxis);
  const left = g.append("g").attr("transform", `translate(${axL},0)`)
    .call(d3.axisLeft(y).tickValues(p.ticks).tickFormat((d, j) => p.tickLabels[j]).tickSize(-16).tickSizeOuter(0).tickPadding(7))
    .call(styleAxis);
  g.append("g").attr("transform", `translate(${axR},0)`)
    .call(d3.axisRight(y).tickValues(p.ticks).tickFormat(() => "").tickSize(-16).tickSizeOuter(0))
    .call(styleAxis);

  // y label
  let maxW = 0;
  left.selectAll(".tick text").each(function () { maxW = Math.max(maxW, this.getComputedTextLength()); });
  const xb = axL - 7 - maxW - 11;
  g.append("text").attr("transform", `translate(${xb},${(top + bottom) / 2}) rotate(-90)`)
    .attr("text-anchor", "middle").style("font-size", FS + "px").style("font-family", FONT)
    .attr("fill", "#000").text(p.label);

  // exponent label
  if (p.exponent) {
    const t = g.append("text").attr("x", axL + 1).attr("y", top - 11)
      .style("font-size", FS + "px").style("font-family", FONT).attr("fill", "#000");
    t.append("tspan").text("x 10");
    t.append("tspan").attr("dy", -11).style("font-size", "13px").text(p.exponent);
  }
});

// highlight frames drawn over the figure
const frames = [
  {x: 9.2, w: 530, color: "#ff0000"},
  {x: 569.1, w: 528.7, color: "#ffc000"},
  {x: 1128.5, w: 530, color: "#0070c0"}
];
svg.append("g").selectAll("rect").data(frames).join("rect")
  .attr("x", d => d.x).attr("y", 7.8).attr("width", d => d.w).attr("height", 1040.5)
  .attr("fill", "none").attr("stroke", d => d.color).attr("stroke-width", 7);
</script>
</body>
</html>
